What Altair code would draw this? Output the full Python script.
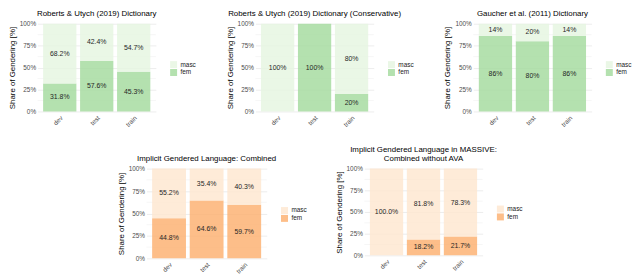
import altair as alt
import pandas as pd

splits = ["dev", "test", "train"]

title_1 = "Roberts & Utych (2019) Dictionary"
fem_1 = [31.8, 57.6, 45.3]
masc_1 = [68.2, 42.4, 54.7]

title_2 = "Roberts & Utych (2019) Dictionary (Conservative)"
fem_2 = [0, 100, 20]
masc_2 = [100, 0, 80]

title_3 = "Gaucher et al. (2011) Dictionary"
fem_3 = [86, 80, 86]
masc_3 = [14, 20, 14]

title_4 = "Implicit Gendered Language: Combined"
fem_4 = [44.8, 64.6, 59.7]
masc_4 = [55.2, 35.4, 40.3]

title_5 = ["Implicit Gendered Language in MASSIVE:", "Combined without AVA"]
fem_5 = [0, 18.2, 21.7]
masc_5 = [100, 81.8, 78.3]

greens = ["#e5f5e0", "#a1d99b"]   # masc, fem
oranges = ["#fee6ce", "#fdae6b"]  # masc, fem

FONT = "Liberation Sans"
major_vals = [0, 0.25, 0.5, 0.75, 1]
minor_vals = [0.125, 0.375, 0.625, 0.875]


def panel(title, fem, masc, fmt, colors, w, h):
    rows = []
    for s, f, m in zip(splits, fem, masc):
        rows.append({"split": s, "gender": "fem", "share": f / 100, "ord": 0})
        rows.append({"split": s, "gender": "masc", "share": m / 100, "ord": 1})
    df = pd.DataFrame(rows)
    base = alt.Chart(df).transform_stack(
        stack="share", groupby=["split"], as_=["y0", "y1"],
        sort=[alt.SortField("ord", order="ascending")]
    ).transform_calculate(mid="(datum.y0 + datum.y1) / 2")

    yscale = alt.Scale(domain=[0, 1], nice=False)
    yaxis = alt.Axis(title="Share of Gendering [%]", values=major_vals, tickCount=10,
                     format=".0%", labelOverlap=False,
                     domain=False, ticks=False, gridColor="#e8e8e8", gridWidth=0.8,
                     labelFontSize=6.5, labelColor="#4d4d4d", labelFont=FONT,
                     labelPadding=2, titleFont=FONT, titleFontSize=8,
                     titleFontWeight="normal", titleColor="#000", titlePadding=3)
    minor = alt.Chart(pd.DataFrame({"v": minor_vals})).mark_rule(
        color="#f0f0f0", strokeWidth=0.6
    ).encode(y=alt.Y("v:Q", scale=yscale, axis=yaxis))

    xenc = alt.X(
        "split:N", sort=splits,
        scale=alt.Scale(paddingInner=0.1, paddingOuter=0.15),
        axis=alt.Axis(title=None, labelAngle=-45, labelAlign="right", labelBaseline="top",
                      domain=False, ticks=False, labelFontSize=6.5, labelColor="#4d4d4d",
                      labelFont=FONT, labelPadding=3, grid=False),
    )
    bars = base.mark_bar(opacity=0.8).encode(
        x=xenc,
        y=alt.Y("y0:Q", scale=yscale, axis=yaxis),
        y2="y1:Q",
        color=alt.Color("gender:N", scale=alt.Scale(domain=["masc", "fem"], range=colors),
                        legend=alt.Legend(title=None, orient="none", legendX=w + 14,
                                          legendY=h / 2 - 7, symbolType="square",
                                          symbolSize=50, symbolOpacity=0.8,
                                          symbolStrokeWidth=0, rowPadding=0,
                                          labelFontSize=6.5, labelFont=FONT,
                                          labelColor="#222", labelOffset=3)),
        order=alt.Order("ord:Q"),
    )
    text = base.transform_filter("datum.share > 0").mark_text(
        fontSize=7, font=FONT, color="#262626"
    ).encode(
        x=alt.X("split:N", sort=splits),
        y=alt.Y("mid:Q"),
        text=alt.Text("share:Q", format=fmt),
    )
    return alt.layer(minor, bars, text).properties(
        width=w, height=h,
        title=alt.TitleParams(title, fontSize=8, fontWeight="normal", font=FONT,
                              color="#000", anchor="middle", offset=3, lineHeight=9),
    )


p1 = panel(title_1, fem_1, masc_1, ".1%", greens, 120, 89)
p2 = panel(title_2, fem_2, masc_2, ".0%", greens, 120, 89)
p3 = panel(title_3, fem_3, masc_3, ".0%", greens, 120, 89)
p4 = panel(title_4, fem_4, masc_4, ".1%", oranges, 122, 91)
p5 = panel(title_5, fem_5, masc_5, ".1%", oranges, 120, 88)

top = alt.hconcat(p1, p2, p3, spacing=30).resolve_scale(color="independent", y="independent").resolve_legend(color="independent")
bottom = alt.hconcat(p4, p5, spacing=28).resolve_scale(color="independent", y="independent").resolve_legend(color="independent")

chart = alt.vconcat(top, bottom, spacing=18, center=True).resolve_scale(
    color="independent").resolve_legend(color="independent").properties(
    padding=0
).configure_view(stroke=None).configure_title(fontWeight="normal")

chart.save("out.html", embed_options={"renderer": "svg", "actions": False})
